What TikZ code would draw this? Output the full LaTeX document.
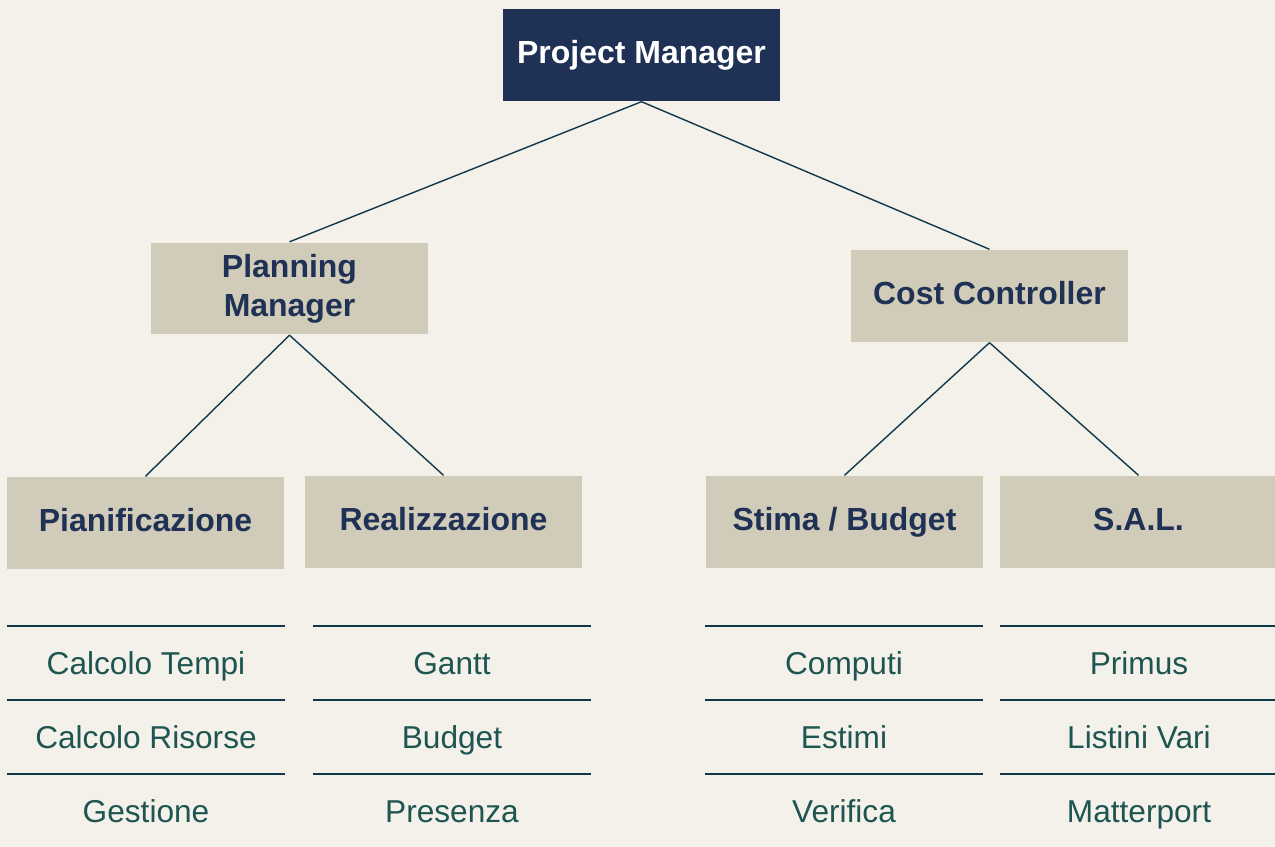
\documentclass[tikz,border=0pt]{standalone}
\usepackage{fontspec}
\setmainfont{Liberation Sans}
\definecolor{bgcol}{HTML}{F4F1EB}
\definecolor{navy}{HTML}{1F3154}
\definecolor{sand}{HTML}{D1CBB9}
\definecolor{teal}{HTML}{12394A}
\definecolor{itemtext}{HTML}{1E5550}
\begin{document}
\begin{tikzpicture}[x=0.02cm,y=-0.02cm,thick,
    boss node/.style={rectangle,fill=navy,text=white,font=\bfseries\fontsize{18.2}{22}\selectfont,text height=13pt,text depth=3.5pt,minimum width=5.54cm,minimum height=1.84cm,inner sep=0pt},
    main node/.style={rectangle,fill=sand,text=navy,font=\bfseries\fontsize{18.2}{22}\selectfont,text height=13pt,text depth=3.5pt,minimum width=5.54cm,minimum height=1.84cm,inner sep=0pt},
    item node/.style={rectangle,text=itemtext,font=\fontsize{18}{22}\selectfont,text height=14pt,text depth=2.1pt,minimum width=5.52cm,minimum height=1.48cm,inner sep=0pt}]
                \fill[bgcol] (0,0) rectangle (1275,847);
                \useasboundingbox (0,0) rectangle (1275,847);

                \node[boss node] at (641.5, 55) (pm) {Project Manager};
                \node[main node,text height=,text depth=,align=center] at (289.5, 288.5) (plan) {Planning\\Manager};
                \node[main node] at (989.5, 296) (cost) {Cost Controller};
                \node[main node] at (145.5, 523) (pian) {Pianificazione};
                \node[main node] at (443.5, 522) (real) {Realizzazione};
                \node[main node] at (844.5, 522) (stima) {Stima / Budget};
                \node[main node] at (1138.5, 522) (sal) {S.A.L.};

                \node[item node] at (146, 664) (tempi) {Calcolo Tempi};
                \node[item node] at (146, 738) (risorse) {Calcolo Risorse};
                \node[item node] at (146, 812) (gest) {Gestione};
                \node[item node] at (452, 664) (gantt) {Gantt};
                \node[item node] at (452, 738) (budget) {Budget};
                \node[item node] at (452, 812) (pres) {Presenza};
                \node[item node] at (844, 664) (comp) {Computi};
                \node[item node] at (844, 738) (estimi) {Estimi};
                \node[item node] at (844, 812) (verif) {Verifica};
                \node[item node] at (1139, 664) (primus) {Primus};
                \node[item node] at (1139, 738) (listini) {Listini Vari};
                \node[item node] at (1139, 812) (matter) {Matterport};

                \path[draw=teal,line width=0.8pt]
                    (pm.south) edge (plan.north)
                    (pm.south) edge (cost.north)
                    (plan.south) edge (pian.north)
                    (plan.south) edge (real.north)
                    (cost.south) edge (stima.north)
                    (cost.south) edge (sal.north)
                    ;

                \path[draw=teal,line width=1.1pt]
                    (tempi.north west) edge (tempi.north east)
                    (risorse.north west) edge (risorse.north east)
                    (gest.north west) edge (gest.north east)
                    (gantt.north west) edge (gantt.north east)
                    (budget.north west) edge (budget.north east)
                    (pres.north west) edge (pres.north east)
                    (comp.north west) edge (comp.north east)
                    (estimi.north west) edge (estimi.north east)
                    (verif.north west) edge (verif.north east)
                    (primus.north west) edge (primus.north east)
                    (listini.north west) edge (listini.north east)
                    (matter.north west) edge (matter.north east)
                    ;
            \end{tikzpicture}
\end{document}
